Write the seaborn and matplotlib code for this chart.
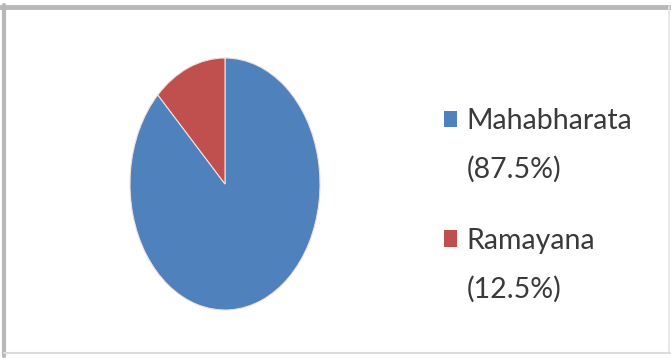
import matplotlib
matplotlib.use('Agg')
import matplotlib.pyplot as plt
import seaborn as sns
from matplotlib.lines import Line2D
from matplotlib.patches import Patch

# data
epics = ['Mahabharata', 'Ramayana']
shares = [87.5, 12.5]
colors = ['#4F81BD', '#C0504D']

sns.set_theme(style='white')
plt.rcParams['font.family'] = ['Lato', 'DejaVu Sans']

W, H = 671, 358
fig = plt.figure(figsize=(W / 100, H / 100), dpi=100)
fig.patch.set_facecolor('white')

# pie axes (stretched, like the original)
ax = fig.add_axes([130 / W, (H - 310) / H, 190 / W, 252 / H])
wedges, _ = ax.pie(shares, colors=colors, startangle=90, counterclock=False,
                   wedgeprops=dict(edgecolor='#f2dede', linewidth=0.8))
ax.set_aspect('auto')
ax.set_xlim(-1, 1)
ax.set_ylim(-1, 1)
ax.axis('off')

# legend
fs = 20.5
handles = [Patch(facecolor=c, edgecolor='none') for c in colors]
leg = fig.legend(handles, epics, loc='upper left', bbox_to_anchor=(444 / W, 1 - 108 / H),
                 frameon=False, fontsize=fs, handlelength=0.46, handleheight=0.53,
                 handletextpad=0.33, labelspacing=3.3, borderpad=0, borderaxespad=0,
                 labelcolor='#3a3a3a')
fig.canvas.draw()
r = fig.canvas.get_renderer()
for txt, val in zip(leg.get_texts(), shares):
    bb = txt.get_window_extent(r)
    fig.text(bb.x0 / W, (bb.y0 - 44) / H, f'({val}%)', fontsize=fs, color='#3a3a3a')

# outer frame
fig.add_artist(Line2D([0, 1], [1 - 6.5 / H] * 2, color='#b8b8b8', lw=3.5))
fig.add_artist(Line2D([4 / W] * 2, [1 - 5 / H, 2 / H], color='#b8b8b8', lw=3))
fig.add_artist(Line2D([4 / W, 1], [1 - 353 / H] * 2, color='#dcdcdc', lw=1.5))
fig.add_artist(Line2D([669 / W] * 2, [1 - 6 / H, 1 - 353 / H], color='#e4e4e4', lw=1.2))

fig.savefig('out.png', dpi=100)
